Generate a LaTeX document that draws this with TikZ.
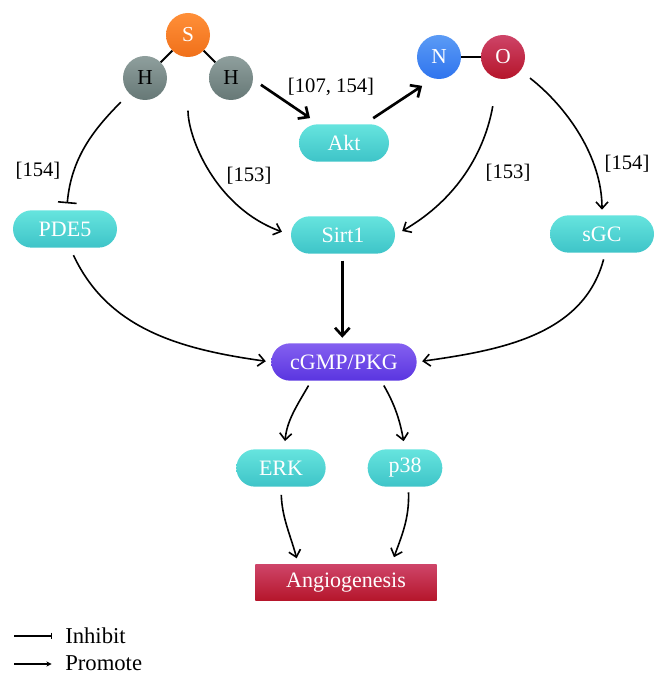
\documentclass[tikz,border=0pt]{standalone}
\usepackage{fontspec}
\setmainfont{Liberation Serif}
\usetikzlibrary{arrows.meta, shapes.misc}

\definecolor{tealtop}{HTML}{66E4DE}
\definecolor{tealbot}{HTML}{3EC4C8}
\definecolor{redtop}{HTML}{CE4468}
\definecolor{redbot}{HTML}{B5152A}
\definecolor{orangetop}{HTML}{FF8F38}
\definecolor{orangebot}{HTML}{F0701A}
\definecolor{graytop}{HTML}{8F9F9D}
\definecolor{graybot}{HTML}{667876}
\definecolor{bluetop}{HTML}{5B9BF5}
\definecolor{bluebot}{HTML}{2F74EE}
\definecolor{violettop}{HTML}{8460F0}
\definecolor{violetbot}{HTML}{5A35E0}

\begin{document}
\begin{tikzpicture}[x=0.75pt,y=0.75pt]

\tikzset{atom/.style = {shape=circle,minimum size=33pt,inner sep=0pt,font=\fontsize{16}{16}\selectfont}}
\tikzset{pill/.style = {shape=rounded rectangle,minimum height=28pt,inner sep=0pt,text=white,top color=tealtop,bottom color=tealbot,font=\fontsize{16.5}{16.5}\selectfont}}
\tikzset{ref/.style = {font=\fontsize{15.5}{15.5}\selectfont}}
\tikzset{key/.style = {anchor=west,inner sep=0pt,font=\fontsize{17}{17}\selectfont}}
\tikzset{edge/.style = {->,> = {Straight Barb[length=5pt,width=9pt]},line width=1.2pt}}
\tikzset{thickedge/.style = {->,> = {Straight Barb[length=6pt,width=11pt]},line width=2pt}}
\tikzset{bond/.style = {line width=1.5pt}}

\useasboundingbox (0,0) rectangle (668,683);
%atoms
\node[atom, text=white, top color=orangetop, bottom color=orangebot] (S) at (188,648) {S};
\node[atom, top color=graytop, bottom color=graybot] (Hl) at (145,605) {H};
\node[atom, top color=graytop, bottom color=graybot] (Hr) at (231,605) {H};
\node[atom, text=white, top color=bluetop, bottom color=bluebot] (N) at (439,626) {N};
\node[atom, text=white, top color=redtop, bottom color=redbot] (O) at (503,626) {O};
%boxes
\node[pill, minimum width=67.5pt] (Akt) at (344,540) {Akt};
\node[pill, minimum width=78pt] (PDE5) at (65,454) {PDE5};
\node[pill, minimum width=78pt] (Sirt1) at (343,448) {Sirt1};
\node[pill, minimum width=78pt] (sGC) at (602,449) {sGC};
\node[pill, minimum width=109pt, top color=violettop, bottom color=violetbot] (cGMP) at (344,321) {cGMP/PKG};
\node[pill, minimum width=67pt] (ERK) at (281,215) {ERK};
\node[pill, minimum width=56pt] (p38) at (405,215) {p38};
\node[pill, shape=rectangle, minimum width=136pt, minimum height=27pt, top color=redtop, bottom color=redbot] (Angio) at (346,100) {Angiogenesis};
%bonds
\draw[bond] (S) -- (Hl);
\draw[bond] (S) -- (Hr);
\draw[bond] (N) -- (O);
%edges
\draw[-{Bar[width=14pt]}, line width=1.2pt, shorten <=9pt, shorten >=5pt] (Hl) to[out=225, in=85] (PDE5);
\draw[edge, shorten <=40pt, shorten >=7pt] (S.south) to[out=270, in=160] (Sirt1.west);
\draw[thickedge, shorten <=7pt, shorten >=8pt] (Hr.-4) -- (Akt.143);
\draw[thickedge, shorten <=8pt, shorten >=10pt] (Akt.43.5) -- (N.-105.6);
\draw[edge, shorten <=21pt, shorten >=6pt] (O.-104) to[out=-100, in=30] (Sirt1.east);
\draw[edge, shorten <=9pt, shorten >=4pt] (O) to[out=-38, in=90, looseness=0.9] (sGC);
\draw[edge, shorten <=6pt, shorten >=4pt] (PDE5.-75) to[out=-65, in=172] (cGMP.west);
\draw[thickedge, shorten <=5pt, shorten >=4pt] (Sirt1.-92) -- (Sirt1.-92 |- cGMP.north);
\draw[edge, shorten <=5pt, shorten >=4pt] (sGC.-80) to[out=-105, in=8] (cGMP.east);
\draw[edge, shorten <=4pt, shorten >=6pt] (cGMP.-150) to[out=-120, in=85] (ERK.80);
\draw[edge, shorten <=4pt, shorten >=6pt] (cGMP.-27) to[out=-60, in=100] (p38.north);
\draw[edge, shorten <=6pt, shorten >=5pt] (ERK.south) to[out=-88, in=105] (Angio.159);
\draw[edge, shorten <=4pt, shorten >=6pt] (p38.-80) to[out=-88, in=70] (Angio.22);
%refs
\node[ref] (r1) at (331,596) {[107, 154]};
\node[ref] (r2) at (38,512) {[154]};
\node[ref] (r3) at (249,507) {[153]};
\node[ref] (r4) at (508,510) {[153]};
\node[ref] (r5) at (627,519) {[154]};
%legend
\node[key] (inhibit) at (65,47) {Inhibit};
\node[key] (promote) at (65,20) {Promote};
\coordinate (a) at (14,47);
\coordinate (b) at (14,19);
\draw[-{Bar[width=5pt]}, line width=0.8pt, shorten >=10pt] (a) -- (inhibit.west);
\draw[-{Stealth[length=4pt,width=4pt]}, line width=0.8pt, shorten >=10pt] (b) -- (promote.west |- b);

\end{tikzpicture}
\end{document}
